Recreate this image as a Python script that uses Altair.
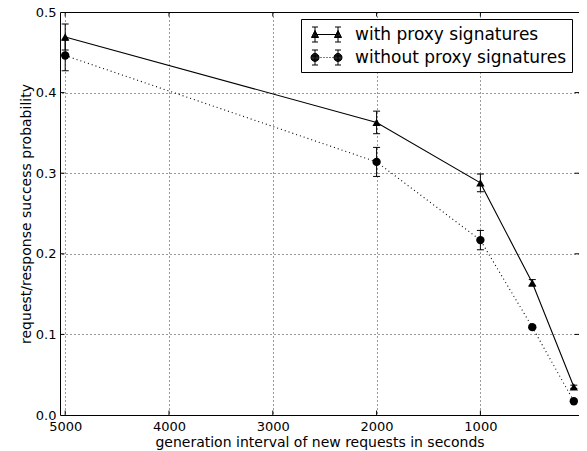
import math
import altair as alt
import pandas as pd

# ---- data ----
intervals = [5000, 2000, 1000, 500, 100]
with_vals = [0.469, 0.363, 0.288, 0.164, 0.035]
with_err = [0.016, 0.014, 0.011, 0.004, 0.002]
without_vals = [0.446, 0.314, 0.217, 0.109, 0.017]
without_err = [0.019, 0.018, 0.012, 0.002, 0.001]
series_names = ["with proxy signatures", "without proxy signatures"]
x_ticks = [5000, 4000, 3000, 2000, 1000]
y_ticks = [0.0, 0.1, 0.2, 0.3, 0.4, 0.5]
x_domain = [50, 5050]
y_domain = [0.0, 0.5]

rows = []
for name, vals, errs in [(series_names[0], with_vals, with_err),
                         (series_names[1], without_vals, without_err)]:
    for xv, yv, ev in zip(intervals, vals, errs):
        rows.append({"series": name, "x": xv, "y": yv, "lo": yv - ev, "hi": yv + ev})
df = pd.DataFrame(rows)

# inward tick marks on all four sides (positions from tick values and domain edges)
tick_rows_x = pd.DataFrame([{"x": xv, "y": yv} for xv in x_ticks for yv in y_domain])
tick_rows_y = pd.DataFrame([{"x": xv, "y": yv} for yv in y_ticks[1:-1] for xv in x_domain])

FONT = "DejaVu Sans"
x_title = "generation interval of new requests in seconds"
y_title = "request/response success probability"

x_enc = alt.X("x:Q",
              scale=alt.Scale(domain=x_domain, reverse=True, nice=False, zero=False),
              axis=alt.Axis(values=x_ticks, format="d", title=x_title))


def y_enc(field):
    return alt.Y(field,
                 scale=alt.Scale(domain=y_domain, nice=False, zero=False),
                 axis=alt.Axis(values=y_ticks, format=".1f", title=y_title))


base = alt.Chart(df)

with_df = base.transform_filter(alt.datum.series == series_names[0])
without_df = base.transform_filter(alt.datum.series == series_names[1])

line_with = with_df.mark_line(color="black", strokeWidth=1.1).encode(x=x_enc, y=y_enc("y:Q"))
line_without = without_df.mark_line(color="black", strokeWidth=1.1, strokeDash=[1, 3]).encode(
    x=x_enc, y=y_enc("y:Q"))

err_rule = base.mark_rule(color="black", strokeWidth=1).encode(
    x=x_enc, y=y_enc("lo:Q"), y2="hi:Q")
cap_lo = base.mark_tick(color="black", orient="horizontal", size=7, thickness=1, opacity=1).encode(
    x=x_enc, y=y_enc("lo:Q"))
cap_hi = base.mark_tick(color="black", orient="horizontal", size=7, thickness=1, opacity=1).encode(
    x=x_enc, y=y_enc("hi:Q"))

pts_with = with_df.mark_point(shape="triangle-up", filled=True, color="black", size=70, opacity=1).encode(
    x=x_enc, y=y_enc("y:Q"))
pts_without = without_df.mark_point(shape="circle", filled=True, color="black", size=70, opacity=1).encode(
    x=x_enc, y=y_enc("y:Q"))

in_ticks_x = alt.Chart(tick_rows_x).mark_tick(
    orient="vertical", size=9, thickness=1, color="black", opacity=1, clip=True).encode(
    x=x_enc, y=y_enc("y:Q"))
in_ticks_y = alt.Chart(tick_rows_y).mark_tick(
    orient="horizontal", size=9, thickness=1, color="black", opacity=1, clip=True).encode(
    x=x_enc, y=y_enc("y:Q"))


# ---- legend symbols: stroke-only custom paths (line + markers + error bars) ----
def f(v):
    return f"{v:.3f}"


def tri(cx):
    s = f"M{f(cx-0.35)},0.3L{f(cx)},-0.4L{f(cx+0.35)},0.3Z"
    y = -0.35
    while y <= 0.3:
        hw = 0.35 * (y + 0.4) / 0.7
        s += f"M{f(cx-hw)},{f(y)}L{f(cx+hw)},{f(y)}"
        y += 0.08
    return s


def circ(cx, r=0.4):
    s = f"M{f(cx-r)},0A{r},{r} 0 1,0 {f(cx+r)},0A{r},{r} 0 1,0 {f(cx-r)},0Z"
    y = -r + 0.05
    while y <= r - 0.05:
        hw = math.sqrt(max(r * r - y * y, 0))
        s += f"M{f(cx-hw)},{f(y)}L{f(cx+hw)},{f(y)}"
        y += 0.08
    return s


def ebar(cx):
    return (f"M{f(cx)},-0.75L{f(cx)},0.75"
            f"M{f(cx-0.3)},-0.75L{f(cx+0.3)},-0.75"
            f"M{f(cx-0.3)},0.75L{f(cx+0.3)},0.75")


L, R = -0.15, 2.15
path_with = f"M{L},0L{R},0" + tri(L) + tri(R) + ebar(L) + ebar(R)
dots = "".join(f"M{f(x0)},0L{f(x0+0.1)},0" for x0 in [0.4, 0.7, 1.0, 1.3, 1.6])
path_without = dots + circ(L) + circ(R) + ebar(L) + ebar(R)

legend_layer = base.transform_filter("datum.x < 0").mark_point(
    filled=False, color="black", strokeWidth=1, size=400, opacity=1).encode(
    x=x_enc, y=y_enc("y:Q"),
    shape=alt.Shape("series:N",
                    scale=alt.Scale(domain=series_names, range=[path_with, path_without]),
                    legend=alt.Legend(title=None, orient="top-right", offset=7, padding=5,
                                      strokeColor="black", fillColor="white", cornerRadius=0,
                                      labelFont=FONT, labelFontSize=17, labelColor="black",
                                      labelLimit=400, labelOffset=28, rowPadding=3,
                                      symbolSize=400,
                                      symbolStrokeColor="black", symbolStrokeWidth=1,
                                      symbolOpacity=1)))

chart = alt.layer(in_ticks_x, in_ticks_y, line_with, line_without, err_rule, cap_lo, cap_hi,
                  pts_with, pts_without, legend_layer).properties(
    width=519, height=403,
    autosize=alt.AutoSizeParams(type="none"),
    padding={"left": 52, "top": 4, "right": 0, "bottom": 36},
).configure(font=FONT).configure_view(
    stroke="black", strokeWidth=1
).configure_axis(
    grid=True, gridColor="black", gridDash=[1, 3], gridWidth=0.8, gridOpacity=1,
    ticks=False, domain=False,
    labelFont=FONT, labelFontSize=13, labelColor="black",
    titleFont=FONT, titleFontSize=14, titleFontWeight="normal", titleColor="black",
).configure_axisX(labelPadding=5, titlePadding=2).configure_axisY(labelPadding=4, titlePadding=2)

chart.save("out.html", embed_options={"renderer": "svg", "actions": False})
